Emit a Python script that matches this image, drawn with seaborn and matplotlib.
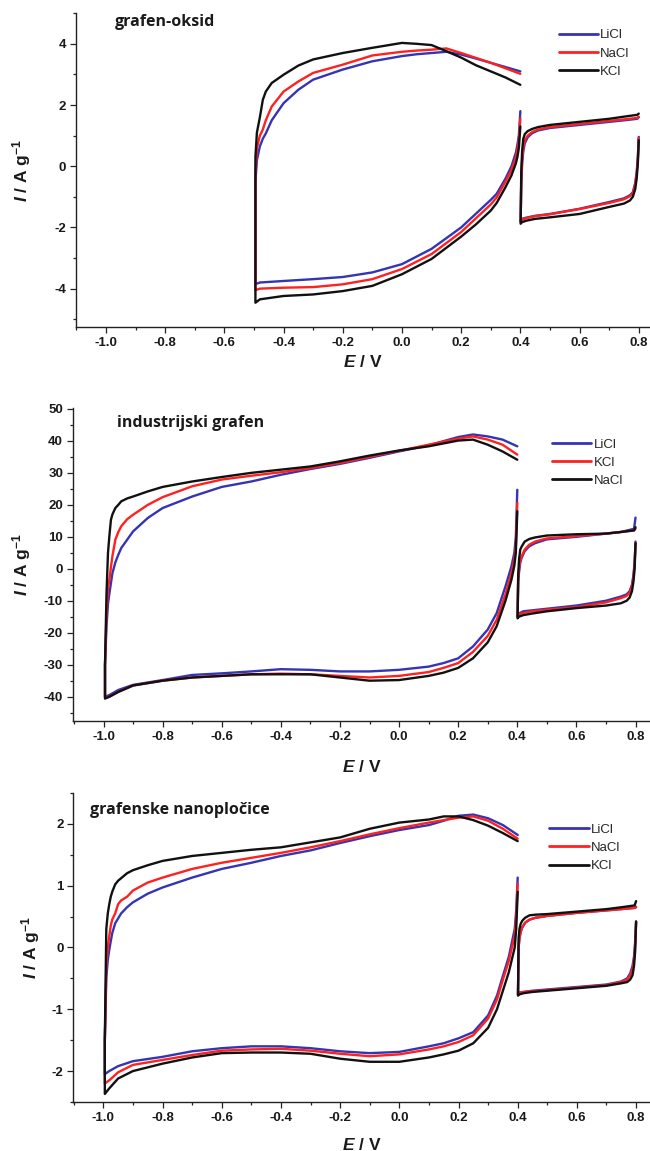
import pandas as pd
import matplotlib
matplotlib.use("Agg")
import matplotlib.pyplot as plt
import seaborn as sns
from matplotlib.ticker import MultipleLocator, FormatStrFormatter

# ---- shared potential grids for the 0.4 .. 0.8 V window ----
SMALL_LOW_E = [0.800, 0.797, 0.793, 0.788, 0.780, 0.770, 0.750, 0.700, 0.600, 0.500, 0.450, 0.420, 0.405, 0.401]
SMALL_UP_E = [0.401, 0.403, 0.406, 0.410, 0.415, 0.425, 0.440, 0.460, 0.500, 0.600, 0.700, 0.750, 0.795, 0.800]

# ---- panel 1: grafen-oksid ----
GO_LABELS = ["LiCl", "NaCl", "KCl"]
GO_LOW_E = [0.400, 0.395, 0.390, 0.385, 0.370, 0.350, 0.320, 0.300, 0.250, 0.200, 0.100, 0.000,
            -0.100, -0.200, -0.300, -0.400, -0.480, -0.495]
GO_LOW_LI = [1.80, 1.00, 0.70, 0.45, 0.00, -0.40, -0.90, -1.10, -1.55, -2.00, -2.70, -3.20,
             -3.47, -3.62, -3.69, -3.75, -3.80, -3.85]
GO_LOW_NA = [1.57, 0.85, 0.55, 0.30, -0.12, -0.50, -1.02, -1.25, -1.70, -2.15, -2.87, -3.36,
             -3.69, -3.86, -3.95, -3.97, -4.00, -4.05]
GO_LOW_K = [1.30, 0.60, 0.30, 0.10, -0.30, -0.68, -1.20, -1.45, -1.90, -2.30, -3.03, -3.53,
            -3.91, -4.08, -4.19, -4.24, -4.35, -4.46]
GO_UP_E = [-0.495, -0.490, -0.480, -0.470, -0.460, -0.440, -0.400, -0.350, -0.300, -0.200, -0.100,
           0.000, 0.050, 0.100, 0.150, 0.200, 0.250, 0.300, 0.350, 0.400]
GO_UP_LI = [-0.50, 0.20, 0.65, 0.90, 1.07, 1.50, 2.06, 2.50, 2.83, 3.16, 3.43,
            3.60, 3.66, 3.70, 3.74, 3.65, 3.52, 3.38, 3.24, 3.10]
GO_UP_NA = [-0.20, 0.60, 1.00, 1.20, 1.50, 1.95, 2.44, 2.77, 3.05, 3.32, 3.62,
            3.74, 3.78, 3.81, 3.85, 3.70, 3.54, 3.38, 3.20, 3.02]
GO_UP_K = [0.30, 1.10, 1.60, 2.17, 2.44, 2.72, 2.99, 3.29, 3.49, 3.70, 3.87,
           4.03, 4.00, 3.96, 3.76, 3.55, 3.30, 3.10, 2.90, 2.66]
GO_SLOW_LI = [0.96, 0.30, -0.20, -0.55, -0.85, -0.95, -1.05, -1.17, -1.39, -1.56, -1.62, -1.68, -1.72, -1.80]
GO_SLOW_NA = [0.92, 0.25, -0.25, -0.60, -0.88, -0.98, -1.08, -1.20, -1.40, -1.57, -1.63, -1.70, -1.75, -1.82]
GO_SLOW_K = [0.85, 0.10, -0.40, -0.75, -1.00, -1.12, -1.22, -1.33, -1.56, -1.67, -1.72, -1.78, -1.83, -1.88]
GO_SUP_LI = [-1.80, -0.60, 0.10, 0.50, 0.75, 0.95, 1.08, 1.17, 1.25, 1.35, 1.45, 1.50, 1.55, 1.60]
GO_SUP_NA = [-1.82, -0.50, 0.20, 0.60, 0.85, 1.00, 1.12, 1.20, 1.28, 1.38, 1.48, 1.53, 1.58, 1.62]
GO_SUP_K = [-1.88, -0.20, 0.50, 0.90, 1.05, 1.15, 1.22, 1.28, 1.35, 1.45, 1.55, 1.62, 1.68, 1.72]

# ---- panel 2: industrijski grafen ----
IG_LABELS = ["LiCl", "KCl", "NaCl"]
IG_LOW_E = [0.400, 0.395, 0.390, 0.380, 0.360, 0.330, 0.300, 0.250, 0.200, 0.150, 0.100, 0.000,
            -0.100, -0.200, -0.300, -0.400, -0.500, -0.600, -0.700, -0.800, -0.900, -0.950, -0.980, -0.995]
IG_LOW_LI = [24.7, 10.0, 5.0, 0.7, -5.5, -13.9, -19.0, -24.3, -28.0, -29.5, -30.6, -31.6,
             -32.1, -32.1, -31.6, -31.4, -32.1, -32.7, -33.2, -34.8, -36.3, -37.9, -39.5, -40.0]
IG_LOW_K = [20.6, 7.0, 3.0, -1.5, -8.0, -16.0, -21.0, -26.0, -29.5, -31.0, -32.3, -33.5,
            -34.0, -33.5, -33.0, -32.8, -33.0, -33.5, -34.0, -35.0, -36.5, -38.5, -40.0, -40.3]
IG_LOW_NA = [18.0, 5.0, 1.0, -3.5, -10.0, -18.0, -23.0, -28.0, -31.0, -32.5, -33.5, -34.8,
             -35.0, -34.0, -33.0, -33.0, -33.0, -33.5, -34.0, -35.0, -36.5, -38.5, -40.0, -40.6]
IG_UP_E = [-0.995, -0.990, -0.985, -0.980, -0.975, -0.970, -0.960, -0.950, -0.940, -0.920, -0.900,
           -0.850, -0.800, -0.700, -0.600, -0.500, -0.400, -0.300, -0.200, -0.100, 0.000,
           0.100, 0.200, 0.250, 0.300, 0.350, 0.400]
IG_UP_LI = [-30.0, -18.0, -11.0, -7.6, -4.5, -1.4, 2.0, 4.4, 6.5, 9.1, 11.7,
            15.9, 19.0, 22.6, 25.6, 27.3, 29.4, 31.2, 32.8, 34.7, 36.7,
            38.6, 41.2, 42.0, 41.4, 40.4, 38.3]
IG_UP_K = [-30.0, -14.0, -6.0, -3.4, 0.5, 3.9, 9.1, 11.5, 13.3, 15.5, 16.9,
           20.0, 22.4, 25.8, 27.9, 29.1, 30.2, 31.5, 33.1, 35.0, 36.9,
           38.8, 40.7, 41.4, 40.4, 38.8, 35.7]
IG_UP_NA = [-30.0, -8.0, 4.9, 10.5, 15.3, 17.0, 19.0, 20.0, 21.1, 22.0, 22.6,
            24.2, 25.6, 27.3, 28.7, 30.0, 31.0, 32.0, 33.6, 35.4, 37.0,
            38.3, 40.1, 40.4, 38.8, 36.7, 34.1]
IG_SLOW_LI = [8.5, 2.0, -2.0, -5.0, -7.0, -8.0, -8.7, -10.0, -11.5, -12.5, -13.0, -13.3, -14.0, -15.0]
IG_SLOW_K = [8.0, 1.5, -2.5, -5.5, -7.5, -8.5, -9.2, -10.5, -12.0, -12.8, -13.3, -13.8, -14.3, -15.0]
IG_SLOW_NA = [8.0, 0.0, -4.0, -7.0, -9.0, -10.0, -10.8, -11.5, -12.3, -13.3, -14.0, -14.5, -15.0, -15.5]
IG_SUP_LI = [-15.0, -4.0, -1.0, 2.0, 3.5, 5.5, 7.0, 8.0, 9.2, 10.0, 11.0, 11.5, 12.5, 16.0]
IG_SUP_K = [-15.0, -3.0, 0.0, 2.5, 4.0, 6.0, 7.5, 8.5, 9.5, 10.2, 11.0, 11.5, 12.0, 12.5]
IG_SUP_NA = [-15.5, -2.0, 3.0, 6.0, 7.0, 8.5, 9.3, 9.8, 10.4, 10.8, 11.0, 11.5, 12.0, 13.0]

# ---- panel 3: grafenske nanoplocice ----
GN_LABELS = ["LiCl", "NaCl", "KCl"]
GN_LOW_E = [0.400, 0.395, 0.390, 0.370, 0.350, 0.330, 0.300, 0.250, 0.200, 0.150, 0.100, 0.000,
            -0.100, -0.200, -0.300, -0.400, -0.500, -0.600, -0.700, -0.800, -0.900, -0.950, -0.980, -0.995]
GN_LOW_LI = [1.13, 0.60, 0.30, -0.15, -0.46, -0.78, -1.10, -1.37, -1.47, -1.55, -1.60, -1.69,
             -1.71, -1.68, -1.63, -1.60, -1.60, -1.63, -1.68, -1.77, -1.84, -1.92, -2.00, -2.05]
GN_LOW_NA = [1.03, 0.50, 0.20, -0.22, -0.52, -0.84, -1.15, -1.42, -1.53, -1.60, -1.65, -1.73,
             -1.76, -1.72, -1.67, -1.64, -1.65, -1.67, -1.74, -1.82, -1.90, -2.02, -2.15, -2.20]
GN_LOW_K = [0.90, 0.30, 0.00, -0.40, -0.70, -1.00, -1.30, -1.55, -1.67, -1.73, -1.78, -1.85,
            -1.85, -1.80, -1.72, -1.70, -1.70, -1.71, -1.78, -1.88, -2.00, -2.12, -2.28, -2.37]
GN_UP_E = [-0.995, -0.990, -0.985, -0.980, -0.975, -0.970, -0.960, -0.950, -0.940, -0.920, -0.900,
           -0.850, -0.800, -0.700, -0.600, -0.500, -0.400, -0.300, -0.200, -0.100, 0.000,
           0.100, 0.150, 0.200, 0.250, 0.300, 0.350, 0.400]
GN_UP_LI = [-1.50, -0.50, -0.20, -0.04, 0.10, 0.23, 0.39, 0.47, 0.55, 0.65, 0.73,
            0.87, 0.97, 1.13, 1.27, 1.37, 1.48, 1.57, 1.69, 1.80, 1.90,
            1.98, 2.05, 2.13, 2.15, 2.09, 1.98, 1.82]
GN_UP_NA = [-1.50, -0.30, 0.00, 0.18, 0.35, 0.45, 0.55, 0.70, 0.76, 0.82, 0.92,
            1.05, 1.13, 1.27, 1.37, 1.45, 1.53, 1.62, 1.72, 1.83, 1.93,
            2.02, 2.06, 2.10, 2.12, 2.05, 1.92, 1.76]
GN_UP_K = [-1.50, 0.30, 0.55, 0.70, 0.82, 0.90, 1.02, 1.08, 1.12, 1.20, 1.25,
           1.33, 1.40, 1.48, 1.53, 1.58, 1.62, 1.70, 1.78, 1.92, 2.02,
           2.07, 2.12, 2.12, 2.06, 1.97, 1.85, 1.72]
GN_SLOW_LI = [0.42, 0.10, -0.15, -0.30, -0.42, -0.50, -0.55, -0.60, -0.64, -0.68, -0.70, -0.72, -0.73, -0.76]
GN_SLOW_NA = [0.40, 0.05, -0.20, -0.35, -0.45, -0.52, -0.56, -0.61, -0.65, -0.69, -0.71, -0.72, -0.74, -0.77]
GN_SLOW_K = [0.42, -0.05, -0.30, -0.45, -0.52, -0.56, -0.58, -0.62, -0.66, -0.70, -0.72, -0.74, -0.76, -0.78]
GN_SUP_LI = [-0.76, 0.00, 0.15, 0.25, 0.32, 0.40, 0.45, 0.48, 0.51, 0.56, 0.60, 0.62, 0.64, 0.65]
GN_SUP_NA = [-0.77, 0.00, 0.15, 0.25, 0.32, 0.40, 0.45, 0.48, 0.51, 0.56, 0.60, 0.62, 0.64, 0.66]
GN_SUP_K = [-0.78, 0.15, 0.30, 0.38, 0.43, 0.48, 0.52, 0.53, 0.54, 0.58, 0.62, 0.65, 0.68, 0.75]

COLORS = {"LiCl": "#3434b4", "NaCl": "#ff2020", "KCl": "#111111"}
COLORS_IG = {"LiCl": "#3434b4", "KCl": "#ff2020", "NaCl": "#111111"}


def loop_frame(e_low, e_up, low, up, salt, loop):
    # reverse scan (right -> left) followed by forward scan (left -> right)
    return pd.DataFrame({"E": list(e_low) + list(e_up),
                         "I": list(low) + list(up),
                         "salt": salt, "loop": loop})


def panel_frame(labels, main_low_e, main_up_e, series):
    frames = []
    for salt, (low, up, slow, sup) in zip(labels, series):
        frames.append(loop_frame(main_low_e, main_up_e, low, up, salt, salt + "_main"))
        frames.append(loop_frame(SMALL_LOW_E, SMALL_UP_E, slow, sup, salt, salt + "_small"))
    return pd.concat(frames, ignore_index=True)


df_go = panel_frame(GO_LABELS, GO_LOW_E, GO_UP_E,
                    [(GO_LOW_LI, GO_UP_LI, GO_SLOW_LI, GO_SUP_LI),
                     (GO_LOW_NA, GO_UP_NA, GO_SLOW_NA, GO_SUP_NA),
                     (GO_LOW_K, GO_UP_K, GO_SLOW_K, GO_SUP_K)])
df_ig = panel_frame(IG_LABELS, IG_LOW_E, IG_UP_E,
                    [(IG_LOW_LI, IG_UP_LI, IG_SLOW_LI, IG_SUP_LI),
                     (IG_LOW_K, IG_UP_K, IG_SLOW_K, IG_SUP_K),
                     (IG_LOW_NA, IG_UP_NA, IG_SLOW_NA, IG_SUP_NA)])
df_gn = panel_frame(GN_LABELS, GN_LOW_E, GN_UP_E,
                    [(GN_LOW_LI, GN_UP_LI, GN_SLOW_LI, GN_SUP_LI),
                     (GN_LOW_NA, GN_UP_NA, GN_SLOW_NA, GN_SUP_NA),
                     (GN_LOW_K, GN_UP_K, GN_SLOW_K, GN_SUP_K)])

sns.set_style("ticks")
plt.rcParams["font.family"] = ["Liberation Sans", "DejaVu Sans"]
plt.rcParams["axes.unicode_minus"] = False
plt.rcParams["mathtext.fontset"] = "custom"
plt.rcParams["mathtext.rm"] = "Liberation Sans:bold"
plt.rcParams["mathtext.it"] = "Liberation Sans:bold:italic"
plt.rcParams["mathtext.bf"] = "Liberation Sans:bold"

fig = plt.figure(figsize=(6.5, 11.51), dpi=100)

panels = [
    # data, labels, palette, title, rect, xlim, ylim, ymajor, yminor, title pos, legend anchor, ylab x, xlab y
    (df_go, GO_LABELS, COLORS, "grafen-oksid", [0.117, 0.716, 0.883, 0.2725], (-1.101, 0.838),
     (-5.25, 5.0), 2, 1, (0.068, 0.972), (0.841, 0.872), -0.075, -0.087),
    (df_ig, IG_LABELS, COLORS_IG, "industrijski grafen", [0.112, 0.3736, 0.888, 0.2717], (-1.104, 0.849),
     (-47.6, 50.2), 10, 5, (0.076, 0.953), (0.830, 0.826), -0.069, -0.122),
    (df_gn, GN_LABELS, COLORS, "grafenske nanoplo\u010dice", [0.113, 0.0426, 0.887, 0.2685], (-1.101, 0.847),
     (-2.5, 2.5), 1, 0.5, (0.029, 0.945), (0.825, 0.822), -0.055, -0.112),
]

for (data, labels, pal, title, rect, xlim, ylim, ymaj, ymin,
     tpos, lpos, ylab_x, xlab_y) in panels:
    ax = fig.add_axes(rect)
    sns.lineplot(data=data, x="E", y="I", hue="salt", hue_order=labels, units="loop",
                 estimator=None, sort=False, palette=pal, linewidth=1.7, ax=ax)
    ax.set_xlim(*xlim)
    ax.set_ylim(*ylim)
    sns.despine(ax=ax)
    for side in ["left", "bottom"]:
        ax.spines[side].set_linewidth(1.0)
        ax.spines[side].set_color("#222222")

    ax.xaxis.set_major_locator(MultipleLocator(0.2))
    ax.xaxis.set_minor_locator(MultipleLocator(0.1))
    ax.xaxis.set_major_formatter(FormatStrFormatter("%.1f"))
    ax.yaxis.set_major_locator(MultipleLocator(ymaj))
    ax.yaxis.set_minor_locator(MultipleLocator(ymin))
    ax.yaxis.set_major_formatter(FormatStrFormatter("%d"))
    ax.tick_params(which="major", direction="out", length=4, width=0.9, pad=3,
                   labelsize=9.5, color="#222222")
    ax.tick_params(which="minor", direction="out", length=2.5, width=0.9, color="#222222")
    for lab in ax.get_xticklabels() + ax.get_yticklabels():
        lab.set_fontweight("bold")
        lab.set_color("#1a1a1a")

    ax.set_xlabel("$E$ / V", fontsize=12.5, fontweight="bold", color="#1a1a1a")
    ax.set_ylabel("$I$ / A g$^{-1}$", fontsize=12.5, fontweight="bold", color="#1a1a1a")
    ax.xaxis.set_label_coords(0.5, xlab_y)
    ax.xaxis.label.set_va("top")
    ax.yaxis.set_label_coords(ylab_x, 0.5)

    ax.text(tpos[0], tpos[1], title, transform=ax.transAxes, ha="left", va="center",
            fontsize=11.5, fontweight="bold", family=["Open Sans", "DejaVu Sans"], color="#1a1a1a")

    handles, _ = ax.get_legend_handles_labels()
    leg = ax.legend(handles=handles, labels=labels, loc="center left", bbox_to_anchor=lpos,
                    frameon=False, fontsize=9.5, handlelength=3.0, handletextpad=0.15,
                    labelspacing=0.45, borderpad=0, borderaxespad=0)
    for line in leg.get_lines():
        line.set_linewidth(2.0)

fig.savefig("out.png", dpi=100)
